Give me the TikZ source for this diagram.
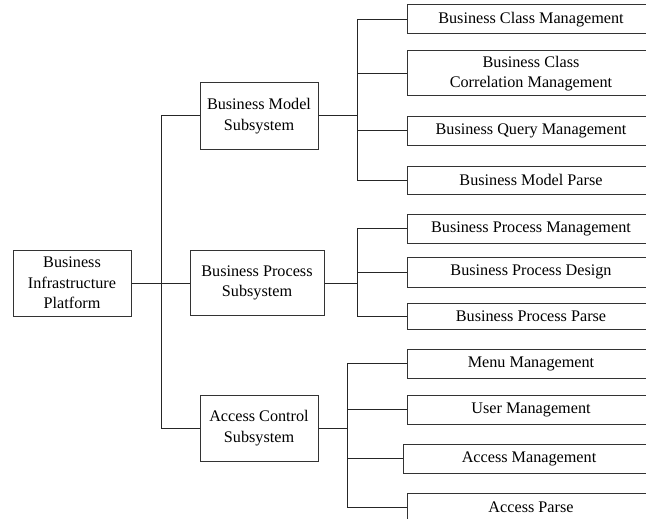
\documentclass[tikz,border=0pt]{standalone}
\usepackage{fontspec}
\setmainfont{Liberation Serif}
\usepackage{tikz}

\begin{document}
\begin{tikzpicture}
    [x=1pt, y=-1pt, line width=1pt,
      every node/.style={font=\fontsize{16.2}{20.7}\selectfont},
      box/.style={draw=black!80, align=center, inner sep=0pt,
        minimum width=118pt, minimum height=66pt},
      leaf/.style={box, anchor=west, minimum width=247pt, minimum height=29pt},
      wire/.style={draw=black!85}]
    \useasboundingbox (0,0) rectangle (646,519);
    \clip (0,0) rectangle (646,519);
    % root and subsystems
    \node[box] (bip) at (72,283) {Business\\Infrastructure\\Platform};
    \node[box] (bms) at (259,116) {Business Model\\Subsystem};
    \node[box, minimum width=134pt, minimum height=65pt] (bps) at (257,283) {Business Process\\Subsystem};
    \node[box] (acs) at (259,428) {Access Control\\Subsystem};
    % business model leaves
    \node[leaf] (bcm) at (407,19.5) {Business Class Management};
    \node[leaf, minimum height=45pt] (bccm) at (407,73.5) {Business Class\\Correlation Management};
    \node[leaf, minimum height=28pt] (bqm) at (407,131) {Business Query Management};
    \node[leaf, minimum height=28pt] (bmp) at (407,180) {Business Model Parse};
    % business process leaves
    \node[leaf] (bpm) at (407,228.5) {Business Process Management};
    \node[leaf, minimum height=30pt] (bpd) at (407,272) {Business Process Design};
    \node[leaf, minimum height=26pt] (bpp) at (407,316) {Business Process Parse};
    % access control leaves
    \node[leaf] (mm) at (407,363.5) {Menu Management};
    \node[leaf] (um) at (407,409.5) {User Management};
    \node[leaf, minimum width=251pt] (am) at (403,458.5) {Access Management};
    \node[leaf] (ap) at (407,507.5) {Access Parse};
    % junctions
    \coordinate (j0) at (161,283);
    \coordinate (j1) at (357,116);
    \coordinate (j2) at (357,283);
    \coordinate (j3) at (347,428);
    % connectors
    \draw[wire] (bip.east) -- (j0);
    \draw[wire] (j0) |- (bms.west);
    \draw[wire] (j0) -- (bps.west);
    \draw[wire] (j0) |- (acs.west);
    \draw[wire] (bms.east) -- (j1);
    \draw[wire] (j1) |- (bcm.west);
    \draw[wire] (j1) |- (bccm.west);
    \draw[wire] (j1) |- (bqm.west);
    \draw[wire] (j1) |- (bmp.west);
    \draw[wire] (bps.east) -- (j2);
    \draw[wire] (j2) |- (bpm.west);
    \draw[wire] (j2) |- (bpd.west);
    \draw[wire] (j2) |- (bpp.west);
    \draw[wire] (acs.east) -- (j3);
    \draw[wire] (j3) |- (mm.west);
    \draw[wire] (j3) |- (um.west);
    \draw[wire] (j3) |- (am.west);
    \draw[wire] (j3) |- (ap.west);
\end{tikzpicture}
\end{document}
